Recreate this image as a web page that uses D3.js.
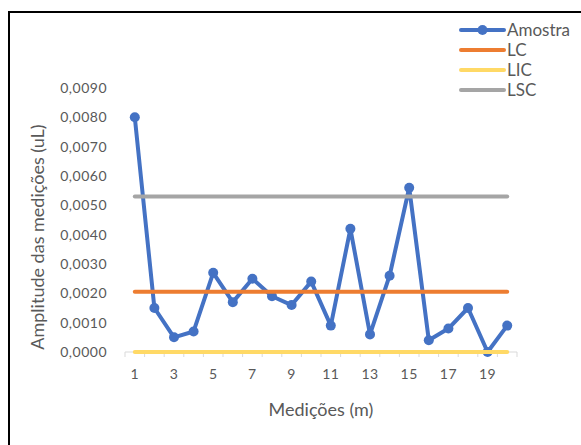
<!DOCTYPE html>
<html>
<head>
<meta charset="utf-8">
<script src="https://cdn.jsdelivr.net/npm/d3@7"></script>
<style>
  html, body { margin: 0; padding: 0; background: #fff; }
  svg { display: block; font-family: Lato, "Open Sans", sans-serif; }
</style>
</head>
<body>
<svg id="chart" width="581" height="445"></svg>
<script>
// Measurement numbers (1..20)
const medicoes = d3.range(1, 21);
// Sample ranges (uL)
const amostra = [0.0080, 0.0015, 0.0005, 0.0007, 0.0027, 0.0017, 0.0025, 0.0019, 0.0016, 0.0024,
                 0.0009, 0.0042, 0.0006, 0.0026, 0.0056, 0.0004, 0.0008, 0.0015, 0.0000, 0.0009];
// Control limits
const lc = 0.00205;
const lic = 0.0;
const lsc = 0.0053;
const yTicks = [0, 0.001, 0.002, 0.003, 0.004, 0.005, 0.006, 0.007, 0.008, 0.009];
const xTickLabels = [1, 3, 5, 7, 9, 11, 13, 15, 17, 19];

const series = [
  { name: "Amostra", color: "#4472C4", values: amostra, marker: true },
  { name: "LC", color: "#ED7D31", values: medicoes.map(() => lc) },
  { name: "LIC", color: "#FFD966", values: medicoes.map(() => lic) },
  { name: "LSC", color: "#A5A5A5", values: medicoes.map(() => lsc) }
];

const svg = d3.select("#chart");
const textColor = "#595959";

// Frame (left and top edges only are visible)
svg.append("path")
  .attr("d", "M9,445 V12 H581")
  .attr("fill", "none")
  .attr("stroke", "#000")
  .attr("stroke-width", 2);

const plot = { left: 125, right: 517, top: 88, bottom: 352 };

const x = d3.scaleBand().domain(medicoes).range([plot.left, plot.right]);
const y = d3.scaleLinear().domain([0, 0.009]).range([plot.bottom, plot.top]);
const cx = d => x(d) + x.bandwidth() / 2;

const fmt = v => d3.format(".4f")(v).replace(".", ",");

// Y axis labels
const yAxis = svg.append("g")
  .attr("transform", `translate(${plot.left - 18},0)`)
  .call(d3.axisLeft(y).tickValues(yTicks).tickFormat(fmt).tickSize(0).tickPadding(0));
yAxis.select(".domain").remove();
yAxis.selectAll("text")
  .attr("fill", textColor)
  .style("font-size", "14px")
  .style("letter-spacing", "0.5px")
  .style("font-family", "Lato, sans-serif");

// X axis baseline with tick marks between categories
const xAxisG = svg.append("g").attr("transform", `translate(0,${plot.bottom})`);
xAxisG.append("line")
  .attr("x1", plot.left).attr("x2", plot.right)
  .attr("stroke", "#D9D9D9").attr("stroke-width", 1);
xAxisG.selectAll("line.tick")
  .data(medicoes.concat([medicoes.length + 1]))
  .join("line")
  .attr("class", "tick")
  .attr("x1", d => d <= medicoes.length ? x(d) : plot.right)
  .attr("x2", d => d <= medicoes.length ? x(d) : plot.right)
  .attr("y1", 0).attr("y2", 5)
  .attr("stroke", "#D9D9D9").attr("stroke-width", 1);
xAxisG.selectAll("text")
  .data(xTickLabels)
  .join("text")
  .attr("x", d => cx(d))
  .attr("y", 27)
  .attr("text-anchor", "middle")
  .attr("fill", textColor)
  .style("font-size", "14px")
  .style("letter-spacing", "0.5px")
  .text(d => d);

// Series lines
const line = d3.line().x((d, i) => cx(medicoes[i])).y(d => y(d));
series.forEach(s => {
  svg.append("path")
    .datum(s.values)
    .attr("d", line)
    .attr("fill", "none")
    .attr("stroke", s.color)
    .attr("stroke-width", 4)
    .attr("stroke-linejoin", "round")
    .attr("stroke-linecap", "round");
  if (s.marker) {
    svg.append("g").selectAll("circle")
      .data(s.values)
      .join("circle")
      .attr("cx", (d, i) => cx(medicoes[i]))
      .attr("cy", d => y(d))
      .attr("r", 5)
      .attr("fill", s.color);
  }
});

// Axis titles
svg.append("text")
  .attr("transform", `translate(44,${(plot.top + plot.bottom) / 2 + 17}) rotate(-90)`)
  .attr("text-anchor", "middle")
  .attr("fill", textColor)
  .style("font-size", "18px")
  .text("Amplitude das medições (uL)");

svg.append("text")
  .attr("x", 321)
  .attr("y", 416)
  .attr("text-anchor", "middle")
  .attr("fill", textColor)
  .style("font-size", "18px")
  .text("Medições (m)");

// Legend
const legend = svg.append("g").attr("transform", "translate(461,30)");
const items = legend.selectAll("g")
  .data(series)
  .join("g")
  .attr("transform", (d, i) => `translate(0,${i * 20})`);
items.append("line")
  .attr("x1", 0).attr("x2", 43)
  .attr("stroke", d => d.color)
  .attr("stroke-width", 4)
  .attr("stroke-linecap", "round");
items.filter(d => d.marker).append("circle")
  .attr("cx", 21.5).attr("r", 5).attr("fill", d => d.color);
items.append("text")
  .attr("x", 46)
  .attr("y", 6)
  .attr("fill", textColor)
  .style("font-size", "17px")
  .text(d => d.name);
</script>
</body>
</html>
